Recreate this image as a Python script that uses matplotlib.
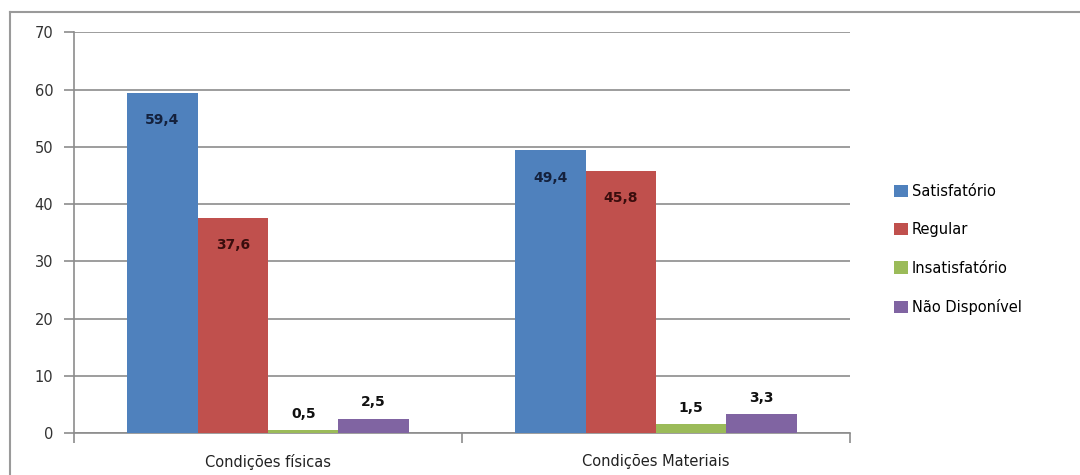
import matplotlib.pyplot as plt
from matplotlib.lines import Line2D
from matplotlib.patches import Patch
import numpy as np

categories = ["Condições físicas", "Condições Materiais"]
series = ["Satisfatório", "Regular", "Insatisfatório", "Não Disponível"]
satisfatorio = [59.4, 49.4]
regular = [37.6, 45.8]
insatisfatorio = [0.5, 1.5]
nao_disponivel = [2.5, 3.3]
labels = [["59,4", "49,4"], ["37,6", "45,8"], ["0,5", "1,5"], ["2,5", "3,3"]]

colors = ["#4F81BD", "#C0504D", "#9BBB59", "#8064A2"]
label_colors = ["#14213d", "#3a0d0d", "#111111", "#111111"]
grid_c = "#8c8c8c"

fig = plt.figure(figsize=(10.8, 4.75), dpi=100)
ax = fig.add_axes([74 / 1080, 42 / 475, 776 / 1080, 401 / 475])

x = np.arange(len(categories))
w = 0.1817
values = [satisfatorio, regular, insatisfatorio, nao_disponivel]
for i, vals in enumerate(values):
    pos = x + (i - 1.5) * w
    ax.bar(pos, vals, width=w, color=colors[i], zorder=3)
    for p, v, t in zip(pos, vals, labels[i]):
        if v > 10:
            ax.text(p, v - 4.8, t, ha="center", va="center", fontsize=10,
                    fontweight="bold", color=label_colors[i], zorder=4)
        else:
            ax.text(p, v + 2.9, t, ha="center", va="center", fontsize=10,
                    fontweight="bold", color=label_colors[i], zorder=4)

ax.set_xlim(-0.5, 1.5)
ax.set_ylim(0, 70.05)
ax.set_yticks(range(0, 71, 10))
ax.yaxis.grid(True, color=grid_c, linewidth=1.2, zorder=0)
ax.set_axisbelow(True)

for s in ["top", "right"]:
    ax.spines[s].set_visible(False)
ax.spines["left"].set_color(grid_c)
ax.spines["bottom"].set_color(grid_c)
ax.spines["left"].set_linewidth(1.2)
ax.spines["bottom"].set_linewidth(1.2)

ax.set_xticks([-0.5, 0.5, 1.5])
ax.set_xticklabels([])
ax.set_xticks(x, minor=True)
ax.set_xticklabels(categories, minor=True, fontsize=10.5, color="#222222")
ax.tick_params(axis="x", which="major", length=7, color=grid_c, width=1.2)
ax.tick_params(axis="x", which="minor", length=0, pad=15)
ax.tick_params(axis="y", length=7, color=grid_c, width=1.2, labelsize=10.5,
               labelcolor="#333333", pad=8)

handles = [Patch(facecolor=c, edgecolor="none") for c in colors]
fig.legend(handles, series, loc="center left", bbox_to_anchor=(0.816, 0.475),
           frameon=False, fontsize=10.5, handlelength=0.9, handleheight=0.9,
           handletextpad=0.3, labelspacing=1.6)

# outer chart frame (top and left edges)
fig.add_artist(Line2D([10 / 1080, 1.0], [1 - 12 / 475, 1 - 12 / 475],
                      color="#9a9a9a", linewidth=1.5, transform=fig.transFigure))
fig.add_artist(Line2D([10 / 1080, 10 / 1080], [0.0, 1 - 12 / 475],
                      color="#9a9a9a", linewidth=1.5, transform=fig.transFigure))

fig.savefig("out.png", dpi=100)
